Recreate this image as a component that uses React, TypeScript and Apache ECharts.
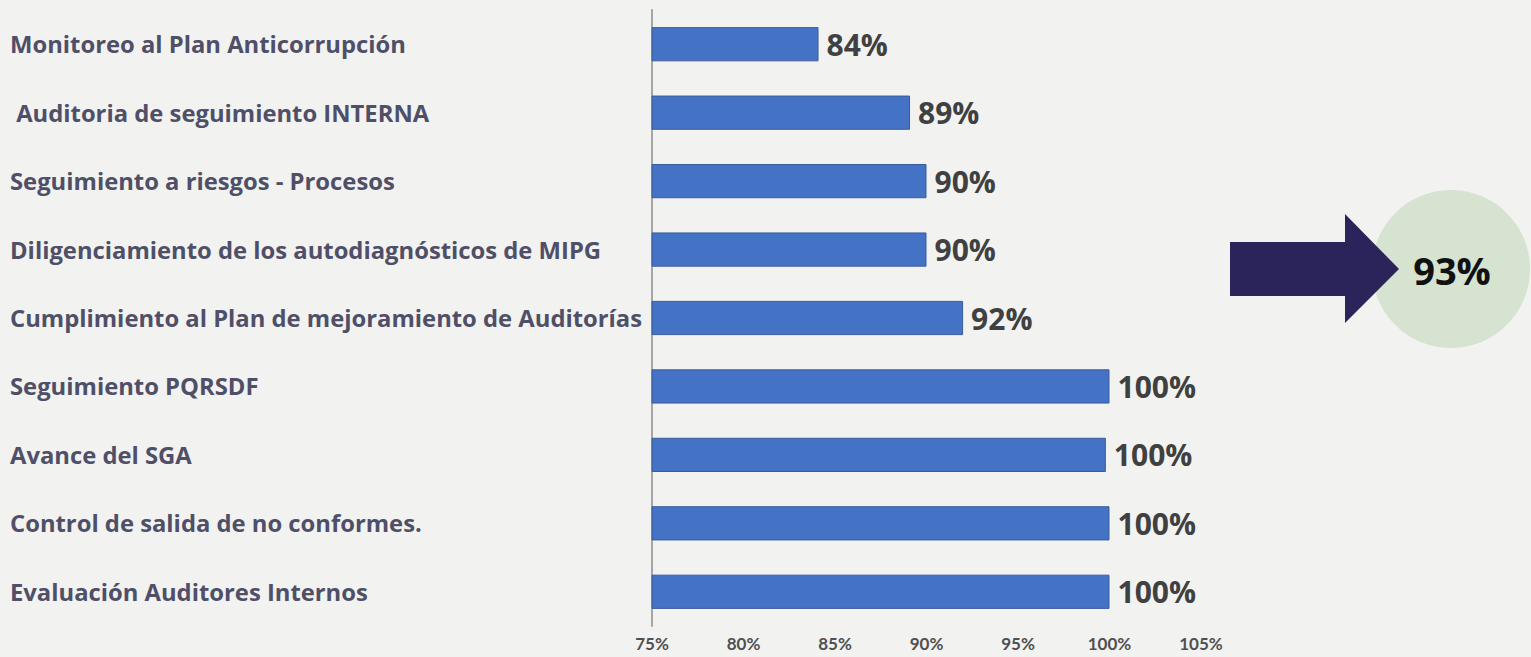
import React, { useEffect, useRef } from "react";
import * as echarts from "echarts";

const categories = [
  "Monitoreo al Plan Anticorrupción",
  " Auditoria de seguimiento INTERNA",
  "Seguimiento a riesgos - Procesos",
  "Diligenciamiento de los autodiagnósticos de MIPG",
  "Cumplimiento al Plan de mejoramiento de Auditorías",
  "Seguimiento PQRSDF",
  "Avance del SGA",
  "Control de salida de no conformes.",
  "Evaluación Auditores Internos",
];
const values = [84.1, 89.1, 90, 90, 92, 100, 99.8, 100, 100];
const axisMin = 75;
const axisMax = 105;
const axisStep = 5;
const totalLabel = "93%";

export default function App() {
  const ref = useRef<HTMLDivElement>(null);
  useEffect(() => {
    if (!ref.current) return;
    const chart = echarts.init(ref.current, null, { renderer: "svg" });
    chart.setOption({
      animation: false,
      grid: { left: 652, right: 330, top: 10, bottom: 31 },
      xAxis: {
        type: "value",
        min: axisMin,
        max: axisMax,
        interval: axisStep,
        axisLine: { show: false },
        axisTick: { show: false },
        splitLine: { show: false },
        axisLabel: {
          formatter: (v: number) => `${v}%`,
          fontFamily: "Lato",
          fontWeight: "bold",
          fontSize: 17,
          color: "#505050",
          margin: 9,
        },
      },
      yAxis: {
        type: "category",
        data: categories,
        inverse: true,
        axisLine: { show: true, lineStyle: { color: "#a6a6a6", width: 2 } },
        axisTick: { show: false },
        axisLabel: {
          align: "left",
          margin: 642,
          fontFamily: "Open Sans",
          fontWeight: "bold",
          fontSize: 23.8,
          color: "#4f4f68",
        },
      },
      series: [
        {
          type: "bar",
          data: values,
          barWidth: "50%",
          itemStyle: { color: "#4472c4", borderColor: "#3a5c9c", borderWidth: 1 },
          label: {
            show: true,
            position: "right",
            distance: 8,
            formatter: (p: any) => `${Math.round(p.value)}%`,
            fontFamily: "Open Sans",
            fontWeight: "bold",
            fontSize: 30,
            color: "#404040",
          },
        },
      ],
      graphic: [
        {
          type: "circle",
          shape: { cx: 1451, cy: 269, r: 79 },
          style: { fill: "#d6e3d0" },
        },
        {
          type: "polygon",
          shape: {
            points: [
              [1230, 242],
              [1345, 242],
              [1345, 214],
              [1399, 269],
              [1345, 323],
              [1345, 296],
              [1230, 296],
            ],
          },
          style: { fill: "#2a245a" },
        },
        {
          type: "text",
          x: 1452,
          y: 270,
          style: {
            text: totalLabel,
            fontFamily: "Open Sans",
            fontWeight: "bold",
            fontSize: 38,
            fill: "#111111",
            textAlign: "center",
            textVerticalAlign: "middle",
          },
        },
      ],
    });
    return () => chart.dispose();
  }, []);
  return (
    <div
      style={{
        position: "fixed",
        left: 0,
        top: 0,
        width: 1531,
        height: 657,
        background: "#f2f2f1",
      }}
    >
      <div ref={ref} style={{ width: 1531, height: 657 }} />
    </div>
  );
}
